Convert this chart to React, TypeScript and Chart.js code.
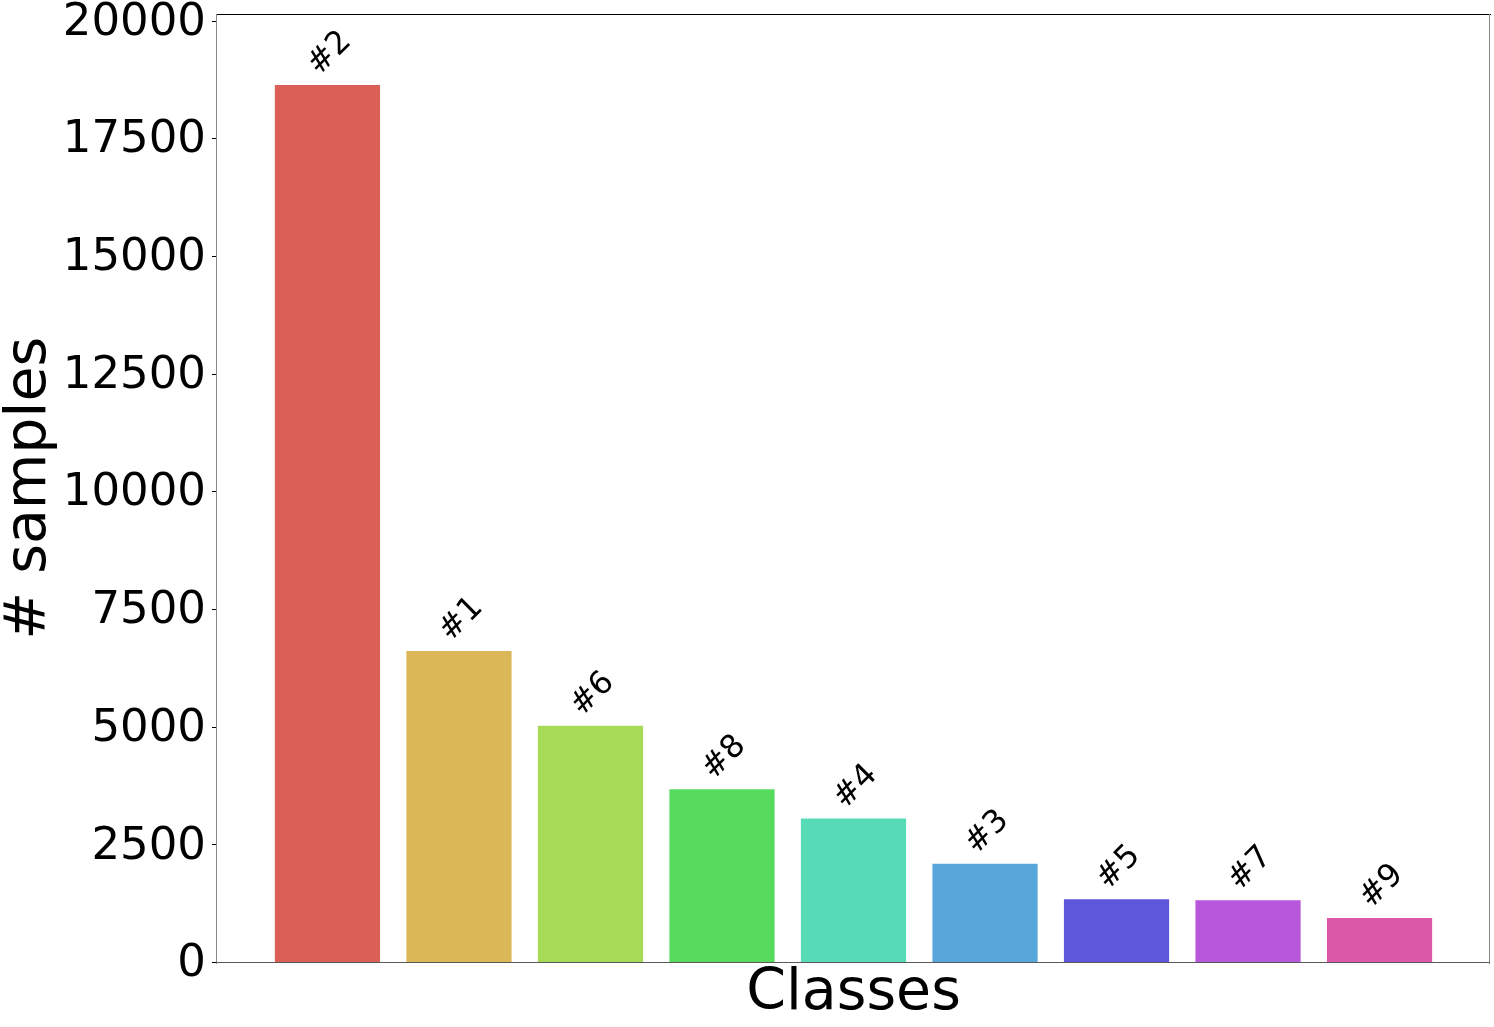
import React, { useEffect, useRef } from "react";
import { Chart, registerables } from "chart.js";

Chart.register(...registerables);

const classLabels = ["#2", "#1", "#6", "#8", "#4", "#3", "#5", "#7", "#9"];
const sampleCounts = [18640, 6620, 5027, 3683, 3058, 2096, 1346, 1325, 943];
const barColors = [
  "#DB5F57",
  "#DBB757",
  "#A7DB57",
  "#57DB5F",
  "#57DBB7",
  "#57A7DB",
  "#5F57DB",
  "#B757DB",
  "#DB57A7",
];
const yTickValues = [0, 2500, 5000, 7500, 10000, 12500, 15000, 17500, 20000];
const yMax = 20150;
const xMin = -0.84;
const xMax = 8.84;

const FONT = "'DejaVu Sans', sans-serif";

const barLabelPlugin = {
  id: "barLabels",
  afterDatasetsDraw(chart: any) {
    const ctx = chart.ctx;
    const meta = chart.getDatasetMeta(0);
    const size = 32;
    ctx.save();
    ctx.font = `${size}px ${FONT}`;
    ctx.fillStyle = "#000";
    ctx.textAlign = "left";
    ctx.textBaseline = "alphabetic";
    meta.data.forEach((el: any, i: number) => {
      const text = classLabels[i];
      const w = ctx.measureText(text).width;
      const capH = 0.73 * size;
      const half = (w + capH) / (2 * Math.SQRT2);
      const cx = el.x;
      const cy = el.y - 9 - half;
      ctx.save();
      ctx.translate(cx, cy);
      ctx.rotate(-Math.PI / 4);
      ctx.fillText(text, -w / 2, capH / 2);
      ctx.restore();
    });
    ctx.restore();
  },
};

const spinesPlugin = {
  id: "spines",
  afterDraw(chart: any) {
    const { ctx, chartArea } = chart;
    const l = Math.round(chartArea.left);
    const r = Math.round(chartArea.right);
    const t = Math.round(chartArea.top);
    const b = Math.round(chartArea.bottom);
    ctx.save();
    ctx.fillStyle = "#000000";
    ctx.fillRect(l - 1, t, r - l + 2, 1);
    ctx.fillStyle = "#888888";
    ctx.fillRect(l - 1, t, 1, b - t + 1);
    ctx.fillRect(r - 1, t, 1, b - t + 1);
    ctx.fillStyle = "#5a5a5a";
    ctx.fillRect(l - 1, b - 1, r - l + 1, 1);
    ctx.restore();
  },
};

export default function App() {
  const canvasRef = useRef<HTMLCanvasElement | null>(null);

  useEffect(() => {
    if (!canvasRef.current) return;
    const chart = new Chart(canvasRef.current, {
      type: "bar",
      data: {
        datasets: [
          {
            data: sampleCounts.map((v, i) => ({ x: i, y: v })),
            backgroundColor: barColors,
            borderWidth: 0,
            barPercentage: 0.8,
            categoryPercentage: 1,
          },
        ],
      },
      options: {
        animation: false,
        responsive: true,
        maintainAspectRatio: false,
        layout: { padding: { left: 0, right: 4, top: 14, bottom: 0 } },
        plugins: {
          legend: { display: false },
          tooltip: { enabled: false },
        },
        scales: {
          x: {
            type: "linear",
            min: xMin,
            max: xMax,
            offset: false,
            grid: { display: false },
            border: { display: false },
            ticks: { display: false },
            title: {
              display: true,
              text: "Classes",
              color: "#000",
              font: { family: FONT, size: 57, lineHeight: 1 },
              padding: { top: 0, bottom: 4 },
            },
            afterBuildTicks(scale: any) {
              scale.ticks = classLabels.map((_, i) => ({ value: i }));
            },
            afterFit(scale: any) {
              scale.height = 64.5;
              scale.paddingLeft = 0;
              scale.paddingRight = 0;
            },
          },
          y: {
            min: 0,
            max: yMax,
            grid: {
              display: true,
              drawOnChartArea: false,
              drawTicks: true,
              tickLength: 5,
              tickColor: "#000",
            },
            border: { display: false },
            ticks: {
              padding: 6,
              labelOffset: 2,
              color: "#000",
              font: { family: FONT, size: 45 },
              callback: (v: any) => String(v),
            },
            afterBuildTicks(scale: any) {
              scale.ticks = yTickValues.map((v) => ({ value: v }));
            },
            title: {
              display: true,
              text: "# samples",
              color: "#000",
              font: { family: FONT, size: 57, lineHeight: 1 },
              padding: { top: 2, bottom: 0 },
            },
            afterFit(scale: any) {
              scale.width = 217;
              scale.paddingTop = 0;
              scale.paddingBottom = 0;
            },
          },
        },
      },
      plugins: [barLabelPlugin, spinesPlugin],
    } as any);
    return () => chart.destroy();
  }, []);

  return (
    <div
      style={{
        position: "fixed",
        left: 0,
        top: 0,
        width: "1494px",
        height: "1027px",
        background: "#fff",
      }}
    >
      <canvas ref={canvasRef} />
    </div>
  );
}
